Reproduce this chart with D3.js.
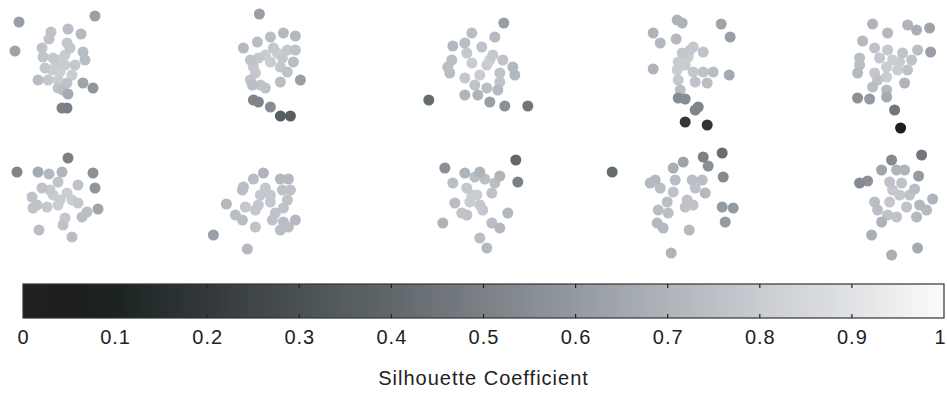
<!DOCTYPE html>
<html>
<head>
<meta charset="utf-8">
<script src="https://cdn.jsdelivr.net/npm/d3@7"></script>
<style>
  body { margin: 0; background: #fff; }
  text { font-family: "Liberation Sans", Arial, sans-serif; }
</style>
</head>
<body>
<svg id="chart"></svg>
<script>
// each point: [x, y, silhouette] in local panel units
const c1 = [[9.5,11.9,.62],[1.9,11.3,.62],[6.8,10.6,.74],[5.1,10.3,.76],[8.1,10.1,.72],[4.9,9.6,.76],[1.5,8.4,.64],
  [4.2,8.7,.76],[6.7,9.2,.78],[7.0,8.7,.78],[8.3,8.3,.74],[8.5,7.5,.74],[4.3,7.8,.77],[5.3,7.7,.78],[6.5,8.0,.8],
  [6.5,7.0,.8],[5.2,6.5,.8],[6.0,6.3,.82],[7.2,6.0,.8],[3.8,5.5,.74],[4.8,5.5,.78],[5.8,5.5,.8],[6.7,5.2,.76],
  [8.3,5.2,.64],[9.3,4.7,.58],[5.8,4.7,.76],[6.8,4.1,.66],[6.2,2.7,.5],[6.7,2.7,.5],[5.6,7.0,.8],[6.0,7.5,.8],
  [4.5,6.7,.78],[7.5,7.0,.78],[6.3,4.5,.74]];
const c2 = [[7.0,12.1,.62],[8.1,9.8,.74],[9.4,10.2,.72],[10.6,9.9,.72],[6.8,9.3,.74],[5.4,8.7,.72],[8.4,8.7,.78],
  [9.8,8.5,.78],[10.6,8.5,.76],[6.1,7.5,.76],[6.9,7.7,.78],[9.3,7.7,.78],[10.4,7.3,.74],[6.4,6.8,.78],[9.1,6.8,.78],
  [9.8,6.3,.76],[6.1,5.5,.76],[7.1,5.0,.76],[7.6,4.7,.76],[9.1,5.3,.74],[11.1,5.5,.62],[6.3,5.0,.74],[6.4,3.5,.52],
  [6.9,3.3,.52],[8.1,2.8,.55],[9.1,1.9,.36],[10.1,1.9,.36],[8.8,8.2,.8],[7.6,8.0,.8],[6.6,6.2,.78],[8.1,7.3,.8]];
const c3 = [[12.5,11.2,.62],[9.3,10.2,.74],[11.6,9.8,.72],[7.4,8.9,.72],[8.6,9.2,.74],[10.3,8.8,.76],[8.8,8.2,.78],
  [11.4,8.0,.78],[12.4,7.5,.76],[7.3,7.5,.74],[6.9,6.8,.74],[9.3,7.2,.8],[10.8,7.0,.8],[13.4,6.8,.72],[7.1,6.2,.74],
  [8.6,5.7,.78],[10.1,6.0,.8],[12.1,6.2,.76],[13.6,6.0,.72],[10.8,4.7,.74],[11.9,4.5,.72],[8.6,4.0,.7],[9.9,4.0,.7],
  [11.1,3.3,.62],[12.6,2.9,.56],[14.9,2.9,.46],[5.0,3.5,.42],[12.1,5.3,.76],[11.1,7.5,.8],[9.6,5.0,.76]];
const c4 = [[10.9,11.5,.7],[11.4,11.2,.7],[15.3,11.1,.64],[8.5,10.2,.7],[16.2,9.8,.62],[9.2,9.2,.72],[10.8,9.6,.72],
  [12.5,8.8,.78],[13.5,8.3,.76],[11.4,8.2,.78],[12.0,7.8,.8],[11.0,7.3,.8],[8.5,6.6,.7],[10.9,6.5,.8],[12.5,6.3,.78],
  [13.5,6.3,.76],[14.5,6.3,.74],[16.1,6.0,.66],[11.0,5.5,.78],[12.7,5.3,.76],[13.9,5.2,.74],[11.2,4.5,.74],
  [11.0,3.7,.55],[11.7,3.6,.55],[13.0,2.8,.52],[12.7,2.5,.52],[11.7,1.3,.2],[13.9,1.0,.18],[11.7,7.0,.8],[12.2,8.5,.78]];
const c5 = [[11.5,11.1,.7],[15.0,11.0,.7],[15.9,10.5,.68],[17.2,10.7,.64],[13.0,10.2,.72],[10.5,9.4,.72],[11.7,8.7,.76],
  [13.0,8.5,.78],[14.5,8.2,.76],[16.0,8.5,.74],[17.3,8.3,.62],[10.2,7.7,.74],[12.2,7.7,.78],[13.5,7.5,.8],[15.4,7.5,.76],
  [10.2,7.0,.74],[12.9,6.8,.8],[14.0,6.5,.8],[15.0,6.5,.76],[10.0,6.2,.72],[11.7,6.2,.78],[12.9,5.8,.8],[12.0,5.5,.76],
  [14.7,5.2,.7],[11.5,4.8,.74],[12.9,4.5,.72],[10.0,3.7,.56],[11.2,3.6,.6],[12.9,3.8,.66],[13.7,2.5,.46],[14.3,0.7,.05],
  [14.2,7.3,.8]];
const c6 = [[6.8,11.2,.5],[1.7,9.8,.52],[3.8,9.8,.66],[4.9,9.6,.72],[6.2,9.8,.7],[9.3,9.7,.56],[9.5,8.2,.58],[5.8,8.8,.76],
  [7.8,8.5,.76],[4.2,8.2,.76],[5.0,8.0,.78],[3.2,7.3,.76],[6.7,7.7,.8],[6.0,7.0,.8],[7.2,7.0,.8],[7.8,6.7,.78],
  [3.7,6.5,.76],[4.7,6.3,.78],[5.8,6.5,.8],[9.8,6.1,.64],[8.7,5.8,.74],[8.2,5.3,.74],[6.5,5.2,.78],[6.3,4.5,.76],
  [3.9,4.0,.74],[7.2,3.3,.74],[3.3,6.2,.76],[5.3,7.5,.8]];
const c7 = [[7.4,9.7,.7],[9.1,9.1,.72],[9.9,9.1,.72],[6.4,9.1,.74],[5.4,8.3,.74],[5.3,8.0,.74],[7.6,8.2,.78],[7.1,7.5,.78],
  [8.1,7.5,.78],[9.3,8.0,.76],[10.1,8.0,.76],[9.8,7.0,.76],[3.7,6.6,.72],[5.6,6.3,.78],[6.6,6.0,.78],[8.1,6.8,.78],
  [9.4,6.2,.76],[8.6,5.7,.76],[4.6,5.5,.74],[5.3,5.0,.74],[8.3,5.0,.76],[9.4,4.8,.74],[10.6,5.0,.72],[6.6,4.3,.76],
  [9.1,4.0,.74],[9.9,4.3,.74],[2.4,3.5,.62],[5.8,2.1,.72],[6.9,6.5,.78]];
const c8 = [[13.7,11.0,.4],[6.6,10.2,.56],[8.6,9.7,.7],[10.1,9.8,.7],[9.6,9.3,.74],[10.6,9.1,.74],[12.1,9.4,.7],
  [11.6,8.7,.74],[13.9,8.8,.5],[7.4,8.7,.74],[8.8,8.2,.78],[9.8,7.5,.8],[11.3,7.7,.76],[7.6,6.7,.74],[9.1,6.8,.8],
  [10.1,6.5,.78],[10.4,6.0,.78],[8.3,5.7,.76],[8.8,5.5,.76],[12.9,5.7,.72],[6.4,4.7,.7],[11.3,4.7,.74],[12.1,4.2,.72],
  [10.1,3.2,.74],[10.8,2.2,.72],[9.3,7.5,.8]];
const c9 = [[15.4,11.7,.42],[13.5,11.3,.5],[14.0,10.4,.56],[11.5,10.8,.64],[10.5,10.2,.68],[4.4,9.8,.42],[15.5,9.3,.54],
  [8.7,9.0,.72],[8.2,8.7,.72],[9.2,8.2,.74],[10.7,9.0,.74],[12.4,9.0,.74],[13.4,9.0,.74],[10.5,7.8,.76],[12.7,8.2,.76],
  [13.7,7.7,.72],[9.9,6.8,.74],[11.9,7.0,.76],[12.5,6.5,.76],[9.0,6.0,.74],[10.0,5.7,.74],[11.7,6.3,.76],[15.4,6.3,.6],
  [16.5,6.2,.6],[8.9,4.7,.72],[9.5,4.2,.72],[15.7,4.8,.6],[12.1,4.0,.72],[10.3,1.7,.7]];
const c10 = [[16.4,11.5,.46],[13.4,11.0,.54],[12.4,10.0,.64],[13.9,10.0,.7],[14.7,10.0,.7],[16.1,9.4,.6],[10.2,8.7,.54],
  [11.0,8.9,.56],[13.2,8.8,.76],[14.4,8.7,.76],[13.5,8.0,.78],[15.7,8.1,.74],[15.2,7.5,.76],[11.7,6.8,.74],[13.2,6.8,.78],
  [14.9,6.3,.76],[16.2,6.5,.72],[17.5,7.1,.7],[12.0,6.0,.74],[13.0,5.5,.76],[13.9,5.3,.76],[16.9,6.0,.72],[15.9,5.3,.72],
  [12.4,4.8,.7],[11.4,3.5,.68],[13.4,1.5,.68],[16.0,2.2,.66],[14.2,7.5,.78]];
const clusters = [c1, c2, c3, c4, c5, c6, c7, c8, c9, c10];

// colormap (silhouette -> colour)
const cmapStops  = [0, 0.05, 0.1, 0.2, 0.3, 0.4, 0.5, 0.6, 0.7, 0.8, 0.9, 1];
const cmapColors = ["#231f20", "#1f1e1f", "#1b2322", "#33393b", "#4a5154", "#61686c", "#7a8086",
                    "#949aa1", "#afb4bb", "#c9ccd1", "#e0e2e5", "#fbfbfb"];
const barTicks = d3.range(0, 11).map(i => i / 10);
const barTitle = "Silhouette Coefficient";

const W = 947, H = 394;
const svg = d3.select("#chart").attr("width", W).attr("height", H);

const color = d3.scaleLinear().domain(cmapStops).range(cmapColors).interpolate(d3.interpolateRgb);

// panels: 5 columns x 2 rows
const col = d3.scaleBand().domain(d3.range(5)).range([0, W]);
const row = d3.scaleBand().domain(d3.range(2)).range([0, 270]);
const x = d3.scaleLinear().domain([0, col.bandwidth() / 10]).range([0, col.bandwidth()]);
const y = d3.scaleLinear().domain([0, 13.5]).range([row.bandwidth(), 0]);

clusters.forEach((pts, i) => {
  const g = svg.append("g")
    .attr("transform", `translate(${col(i % 5)},${row(Math.floor(i / 5))})`);
  g.selectAll("circle")
    .data(pts.slice().sort((a, b) => b[2] - a[2]))
    .join("circle")
    .attr("cx", d => x(d[0]))
    .attr("cy", d => y(d[1]))
    .attr("r", 5.5)
    .attr("fill", d => color(d[2]));
});

// colorbar
const cb = { left: 23, right: 944, top: 284, bottom: 318 };
const cx = d3.scaleLinear().domain([0, 1]).range([cb.left, cb.right]);

const grad = svg.append("defs").append("linearGradient").attr("id", "cmap")
  .attr("x1", "0%").attr("x2", "100%").attr("y1", "0%").attr("y2", "0%");
grad.selectAll("stop")
  .data(d3.range(0, 101).map(i => i / 100))
  .join("stop")
  .attr("offset", d => `${d * 100}%`)
  .attr("stop-color", d => color(d));

svg.append("rect")
  .attr("x", cb.left).attr("y", cb.top)
  .attr("width", cb.right - cb.left).attr("height", cb.bottom - cb.top)
  .attr("fill", "url(#cmap)")
  .attr("stroke", "#333").attr("stroke-width", 1.2);

const inner = barTicks.slice(1, -1);
svg.append("g").selectAll("line")
  .data(inner.flatMap(t => [[t, cb.top, cb.top + 4], [t, cb.bottom - 4, cb.bottom]]))
  .join("line")
  .attr("x1", d => cx(d[0])).attr("x2", d => cx(d[0]))
  .attr("y1", d => d[1]).attr("y2", d => d[2])
  .attr("stroke", "#222").attr("stroke-width", 1.2);

const axis = svg.append("g")
  .attr("transform", `translate(0,${cb.bottom})`)
  .call(d3.axisBottom(cx).tickValues(barTicks).tickSize(0).tickPadding(12).tickFormat(d3.format("~g")));
axis.select(".domain").remove();
axis.selectAll("text")
  .attr("font-size", 20).attr("letter-spacing", 1)
  .attr("fill", "#222")
  .style("font-family", '"Liberation Sans", Arial, sans-serif');
// keep the last label inside the window
axis.selectAll(".tick").filter(d => d === 1).select("text")
  .attr("text-anchor", "end").attr("dx", 2);

svg.append("text")
  .attr("x", cx(0.5)).attr("y", 385)
  .attr("text-anchor", "middle")
  .attr("font-size", 20).attr("letter-spacing", 1)
  .attr("fill", "#222")
  .text(barTitle);
</script>
</body>
</html>
